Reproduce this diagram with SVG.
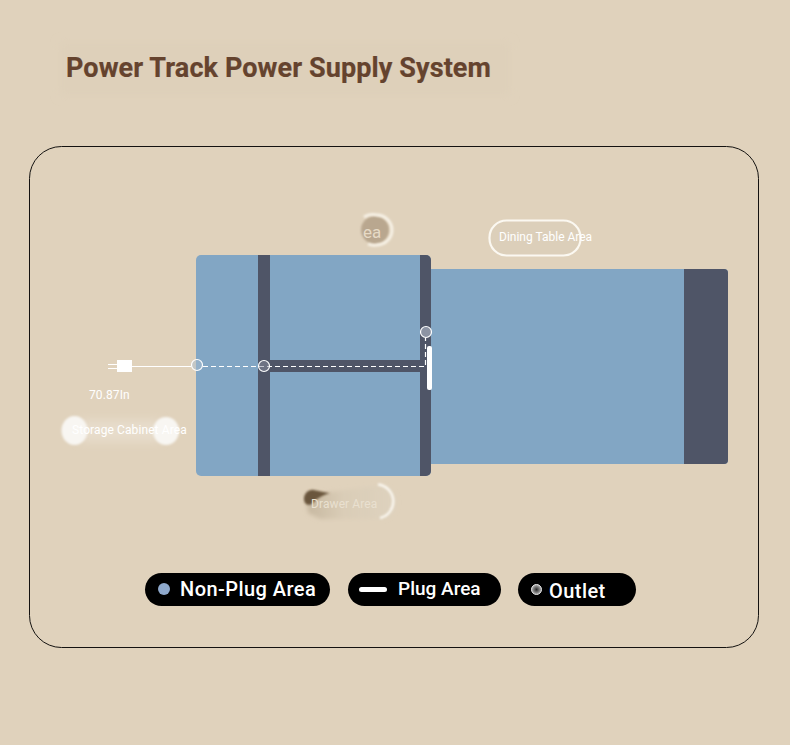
<svg xmlns="http://www.w3.org/2000/svg" width="790" height="745" viewBox="0 0 790 745">
<defs>
<style>
text{font-family:Roboto,"Liberation Sans",sans-serif}
.blue{fill:#82a6c4}
.dark{fill:#4f5567}
.lab{fill:#fff;font-size:12px;letter-spacing:.1px}
.leg{fill:#fff;font-size:20px;letter-spacing:.45px;font-weight:500}
.pill{fill:#000}
.dot{fill:none;stroke:#fff;stroke-width:1.2}
</style>
<filter id="b2" x="-40%" y="-40%" width="180%" height="180%"><feGaussianBlur stdDeviation="2"/></filter>
<filter id="b1" x="-40%" y="-40%" width="180%" height="180%"><feGaussianBlur stdDeviation="1"/></filter>
<filter id="b4" x="-40%" y="-40%" width="180%" height="180%"><feGaussianBlur stdDeviation="4"/></filter>
<radialGradient id="out"><stop offset="0" stop-color="#2a2a2a"/><stop offset="1" stop-color="#b5b5b5"/></radialGradient>
<linearGradient id="dr" x1="0" x2="1" y1="0" y2="0"><stop offset="0" stop-color="#c4b59d" stop-opacity=".9"/><stop offset=".4" stop-color="#d9ccb6" stop-opacity=".9"/><stop offset="1" stop-color="#ddd2bf" stop-opacity=".7"/></linearGradient>
</defs>
<rect width="790" height="745" fill="#e0d2bc"/>
<g id="title">
<rect x="60" y="42" width="450" height="54" fill="#ded0ba" filter="url(#b4)"/>
<text x="66" y="77" font-size="27" font-weight="700" letter-spacing=".1" fill="#65432e" stroke="#65432e" stroke-width=".2">Power Track Power Supply System</text>
</g>
<rect id="frame" x="29.500" y="146.500" width="729" height="501" rx="32" fill="none" stroke="#141210" stroke-width="1"/>
<g id="dining-table">
<rect x="425" y="269" width="303" height="195" rx="4" class="blue"/>
<path d="M684 269h40a4 4 0 0 1 4 4v187a4 4 0 0 1-4 4h-40z" class="dark"/>
</g>
<g id="island">
<rect x="196" y="255" width="235" height="221" rx="5" class="blue"/>
<rect x="258" y="255" width="12" height="221" class="dark"/>
<path d="M420 255h6a5 5 0 0 1 5 5v211a5 5 0 0 1-5 5h-6z" class="dark"/>
<rect x="270" y="360" width="150" height="12" class="dark"/>
</g>
<g id="connectors">
<path d="M132 366.500H191" stroke="#fff" stroke-width="1.200" fill="none"/>
<path d="M203 366.500H425.500V338" stroke="#fff" stroke-width="1.200" stroke-dasharray="5 3" fill="none"/>
<rect x="427" y="346" width="5" height="44" rx="2" fill="#fff"/>
</g>
<g id="plug">
<path d="M108 364.500h9M108 368.500h9" stroke="#fff" stroke-width="1"/>
<rect x="117" y="360" width="15" height="12" fill="#fff"/>
</g>
<g id="outlets">
<circle cx="197" cy="365" r="5.500" class="dot" style="fill:#a8bccd;fill-opacity:.5"/>
<circle cx="264" cy="366" r="5.500" class="dot" style="fill:#8b90a0;fill-opacity:.5"/>
<circle cx="426" cy="332" r="5.500" class="dot" style="fill:#8c93a3"/>
</g>
<g id="length-label"><text x="89" y="399" class="lab">70.87In</text></g>
<g id="storage-cabinet-area">
<rect x="80" y="420" width="80" height="22" fill="#e7dccb" filter="url(#b4)"/>
<ellipse cx="74.500" cy="430.500" rx="13" ry="14.500" fill="#f8f6f2" filter="url(#b1)"/>
<ellipse cx="166" cy="431" rx="13" ry="14" fill="#f8f6f2" filter="url(#b1)"/>
<text x="72" y="434" class="lab">Storage Cabinet Area</text>
</g>
<g id="top-area">
<circle cx="375" cy="230" r="14" fill="#b9a78f" filter="url(#b1)"/>
<path d="M364 217a16 16 0 0 1 13-2a15 15 0 0 1 0 30a15 15 0 0 1-9-1" fill="none" stroke="#f8f3e8" stroke-width="2.800" filter="url(#b1)"/>
<text x="363" y="238" font-size="17" fill="#e6dac6">ea</text>
</g>
<g id="dining-table-area">
<rect x="489.500" y="220.500" width="91" height="35" rx="17" fill="#dccfba" stroke="#fbf8f1" stroke-width="2.200"/>
<text x="499" y="241" class="lab" style="letter-spacing:0">Dining Table Area</text>
</g>
<g id="drawer-area">
<path d="M306 495L378 486h2a16.500 16.500 0 0 1 0 33h-60l-12-6z" fill="url(#dr)" filter="url(#b2)"/>
<path d="M304 499c0-6 5-10 10-9 6 1 8 2 16 3-8 3-13 5-16 9-4 5-10 3-10-3z" fill="#6a563c" filter="url(#b1)"/>
<path d="M378 484.500a17 17 0 0 1 2 33.500" fill="none" stroke="#fbf8f1" stroke-width="2.400" filter="url(#b1)"/>
<text x="311" y="508" class="lab" style="fill:#e9e0d0">Drawer Area</text>
</g>
<g id="legend-non-plug">
<rect x="145" y="573" width="185" height="33" rx="16.500" class="pill"/>
<circle cx="164" cy="589" r="6" fill="#8fa9cc"/>
<text x="180" y="596" class="leg">Non-Plug Area</text>
</g>
<g id="legend-plug">
<rect x="348" y="573" width="153" height="33" rx="16.500" class="pill"/>
<rect x="359" y="587" width="28" height="5" rx="2.500" fill="#fff"/>
<text x="398" y="595" class="leg" style="font-size:19px;letter-spacing:0">Plug Area</text>
</g>
<g id="legend-outlet">
<rect x="518" y="573" width="118" height="33" rx="16.500" class="pill"/>
<circle cx="536.500" cy="589.500" r="5" fill="url(#out)" stroke="#e5e5e5" stroke-width="1"/>
<text x="549" y="598" class="leg">Outlet</text>
</g>
</svg>
